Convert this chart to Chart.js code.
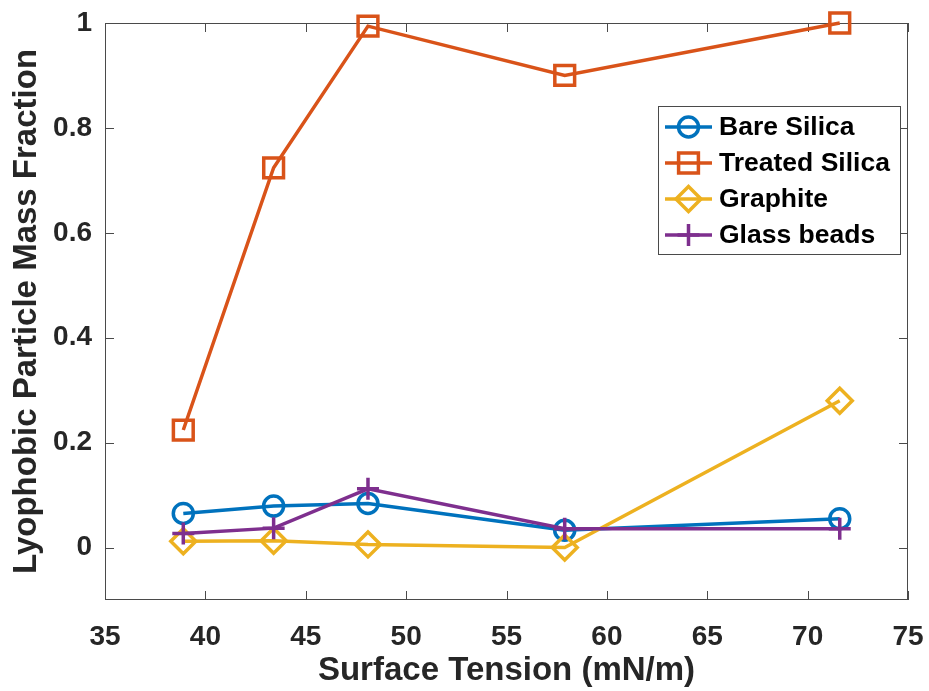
<!DOCTYPE html>
<html>
<head>
<meta charset="utf-8">
<script src="https://cdn.jsdelivr.net/npm/chart.js@4.4.1/dist/chart.umd.min.js"></script>
<style>
  html, body { margin: 0; padding: 0; background: #fff; }
  #wrap { width: 929px; height: 691px; position: relative; }
</style>
</head>
<body>
<div id="wrap"><canvas id="chart" width="929" height="691"></canvas></div>
<script>
// Data
const surfaceTension = [38.9, 43.4, 48.1, 57.9, 71.6];
const bareSilica     = [0.065, 0.079, 0.084, 0.033, 0.055];
const treatedSilica  = [0.224, 0.724, 0.994, 0.900, 1.000];
const graphite       = [0.012, 0.013, 0.006, 0.000, 0.280];
const glassBeads     = [0.027, 0.037, 0.112, 0.036, 0.036];

const seriesNames = ['Bare Silica', 'Treated Silica', 'Graphite', 'Glass beads'];
const xTicks = [35, 40, 45, 50, 55, 60, 65, 70, 75];
const yTicks = [0, 0.2, 0.4, 0.6, 0.8, 1];

const FONT = '"Liberation Sans", Arial, Helvetica, sans-serif';
const AXIS_COLOR = '#4a4a4a';
const LW = 3.5;

function toPoints(ys) {
    return ys.map((y, i) => ({ x: surfaceTension[i], y: y }));
}

function series(label, ys, color, style, radius, order) {
    return {
        label: label,
        data: toPoints(ys),
        borderColor: color,
        backgroundColor: 'rgba(0,0,0,0)',
        borderWidth: LW,
        pointStyle: style,
        pointRadius: radius,
        pointBorderWidth: LW,
        pointBorderColor: color,
        pointBackgroundColor: 'rgba(0,0,0,0)',
        tension: 0,
        clip: false,
        order: order
    };
}

// box + inward ticks, MATLAB style
const boxPlugin = {
    id: 'box',
    beforeDatasetsDraw(chart) {
        const { ctx, chartArea: a, scales } = chart;
        const len = 9;
        ctx.save();
        ctx.strokeStyle = AXIS_COLOR;
        ctx.lineWidth = 1;
        ctx.strokeRect(a.left + 0.5, a.top + 0.5, a.right - a.left - 1, a.bottom - a.top - 1);
        ctx.beginPath();
        xTicks.forEach(v => {
            const px = Math.round(scales.x.getPixelForValue(v)) + 0.5;
            ctx.moveTo(px, a.bottom); ctx.lineTo(px, a.bottom - len);
            ctx.moveTo(px, a.top); ctx.lineTo(px, a.top + len);
        });
        yTicks.forEach(v => {
            const py = Math.round(scales.y.getPixelForValue(v)) + 0.5;
            ctx.moveTo(a.left, py); ctx.lineTo(a.left + len, py);
            ctx.moveTo(a.right, py); ctx.lineTo(a.right - len, py);
        });
        ctx.stroke();
        ctx.restore();
    }
};

// legend box drawn inside the plot
const legendPlugin = {
    id: 'innerLegend',
    afterDraw(chart) {
        const { ctx } = chart;
        const left = 658, top = 106, w = 242, h = 148;
        const rowH = 36, firstRow = 127;
        ctx.save();
        ctx.fillStyle = '#fff';
        ctx.fillRect(left, top, w, h);
        ctx.strokeStyle = AXIS_COLOR;
        ctx.lineWidth = 1;
        ctx.strokeRect(left + 0.5, top + 0.5, w, h);
        chart.data.datasets.forEach((ds, i) => {
            const y = firstRow + i * rowH;
            ctx.strokeStyle = ds.borderColor;
            ctx.lineWidth = LW;
            ctx.beginPath();
            ctx.moveTo(665, y);
            ctx.lineTo(712, y);
            ctx.stroke();
            ctx.fillStyle = 'rgba(0,0,0,0)';
            Chart.helpers.drawPoint(ctx, {
                pointStyle: ds.pointStyle,
                radius: ds.pointRadius,
                borderWidth: LW,
                rotation: 0
            }, 688.5, y);
            ctx.fillStyle = '#000';
            ctx.font = 'bold 26.5px ' + FONT;
            ctx.textBaseline = 'middle';
            ctx.textAlign = 'left';
            ctx.fillText(ds.label, 719, y + 1);
        });
        ctx.restore();
    }
};

new Chart(document.getElementById('chart'), {
    type: 'line',
    data: {
        datasets: [
            series(seriesNames[0], bareSilica, '#0072BD', 'circle', 10, 4),
            series(seriesNames[1], treatedSilica, '#D95319', 'rect', 14, 3),
            series(seriesNames[2], graphite, '#EDB120', 'rectRot', 12.5, 2),
            series(seriesNames[3], glassBeads, '#7E2F8E', 'cross', 11, 1)
        ]
    },
    options: {
        responsive: false,
        animation: false,
        layout: { padding: { top: 23, right: 21, left: 0, bottom: 0 } },
        plugins: {
            legend: { display: false },
            tooltip: { enabled: false }
        },
        scales: {
            x: {
                type: 'linear',
                min: 35,
                max: 75,
                afterBuildTicks: s => { s.ticks = xTicks.map(v => ({ value: v })); },
                afterFit: s => { s.height = 91; s.paddingLeft = 0; s.paddingRight = 0; },
                grid: { display: false, drawTicks: false },
                border: { display: false },
                ticks: {
                    padding: 20,
                    color: '#262626',
                    font: { family: FONT, size: 28, weight: 'bold' },
                    maxRotation: 0,
                    callback: v => String(v)
                },
                title: {
                    display: true,
                    text: 'Surface Tension (mN/m)',
                    color: '#262626',
                    font: { family: FONT, size: 33, weight: 'bold' },
                    padding: { top: 0, bottom: 0 }
                }
            },
            y: {
                type: 'linear',
                min: -0.1,
                max: 1,
                afterBuildTicks: s => { s.ticks = yTicks.map(v => ({ value: v })); },
                afterFit: s => { s.width = 105; s.paddingTop = 0; s.paddingBottom = 0; },
                grid: { display: false, drawTicks: false },
                border: { display: false },
                ticks: {
                    padding: 13,
                    color: '#262626',
                    font: { family: FONT, size: 28, weight: 'bold' },
                    callback: v => String(Math.round(v * 10) / 10)
                },
                title: {
                    display: true,
                    text: 'Lyophobic Particle Mass Fraction',
                    color: '#262626',
                    font: { family: FONT, size: 33, weight: 'bold' },
                    padding: { top: 7, bottom: 0 }
                }
            }
        }
    },
    plugins: [boxPlugin, legendPlugin]
});
</script>
</body>
</html>
